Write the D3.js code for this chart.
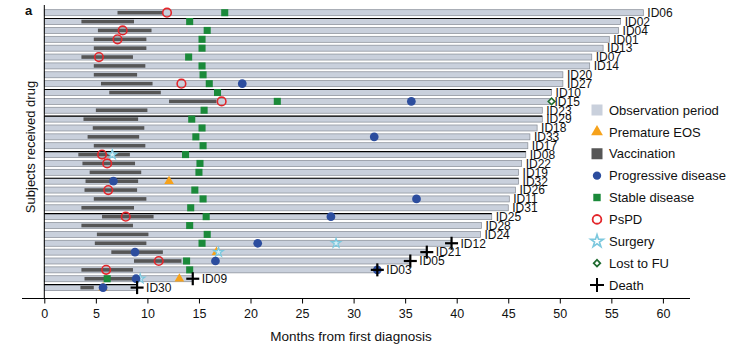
<!DOCTYPE html>
<html>
<head>
<meta charset="utf-8">
<script src="https://cdn.jsdelivr.net/npm/d3@7"></script>
<style>
  body { margin: 0; background: #fff; }
  svg text { font-family: "Liberation Sans Narrow", "Liberation Sans", Arial, sans-serif; fill: #111; }
</style>
</head>
<body>
<div id="chart"></div>
<script>
// Subjects, top to bottom
const ids = ["ID06","ID02","ID04","ID01","ID13","ID07","ID14","ID20","ID27","ID10","ID15","ID23","ID29","ID18","ID33","ID17",
             "ID08","ID22","ID19","ID32","ID26","ID11","ID31","ID25","ID28","ID24","ID12","ID21","ID05","ID03","ID09","ID30"];

// end of observation period (months)
const obsEnd = [58.1,55.9,55.7,54.8,54.2,53.1,52.9,50.3,50.3,49.2,49.1,48.3,48.3,47.8,47.1,46.9,
                46.7,46.3,46.0,46.0,45.7,45.1,45.0,43.4,42.4,42.3,39.5,37.1,35.5,32.3,14.4,9.0];

// vaccination start / end (months)
const vacStart = [7.1,3.6,5.2,4.8,4.8,3.6,4.8,4.8,5.5,6.3,12.1,5.0,3.8,4.7,4.2,4.8,
                  3.3,3.7,4.4,4.0,3.9,4.8,3.6,5.6,3.6,5.1,4.9,6.5,8.7,3.6,3.9,3.5];
const vacEnd   = [11.5,8.7,10.4,9.9,9.9,8.6,9.8,9.0,10.5,11.3,16.7,10.0,9.1,9.7,9.2,9.8,
                  8.3,8.8,9.4,9.1,9.0,9.9,8.7,10.6,8.6,10.1,9.9,11.5,13.3,8.6,8.9,4.8];

// rows with a dark outline
const darkRows = ["ID02","ID10","ID29","ID08","ID32","ID25","ID30"];

// events: [subject, month]
const stable = [["ID06",17.5],["ID02",14.1],["ID04",15.8],["ID01",15.3],["ID13",15.3],["ID07",14.0],["ID14",15.3],
                ["ID20",15.4],["ID27",16.0],["ID10",16.8],["ID15",22.6],["ID23",15.5],["ID29",14.3],["ID18",15.3],
                ["ID33",14.7],["ID17",15.4],["ID08",13.7],["ID22",15.1],["ID19",15.0],["ID26",14.6],["ID11",15.4],
                ["ID31",14.2],["ID25",15.7],["ID28",14.1],["ID24",15.8],["ID12",15.3],["ID05",13.8],["ID03",14.1],
                ["ID09",6.1]];
const pspd = [["ID06",11.9],["ID04",7.6],["ID01",7.1],["ID07",5.3],["ID27",13.3],["ID15",17.2],["ID08",5.6],
              ["ID22",6.1],["ID26",6.2],["ID25",7.9],["ID05",11.1],["ID03",6.0]];
const progressive = [["ID27",19.2],["ID15",35.6],["ID33",32.0],["ID32",6.7],["ID11",36.1],["ID25",27.8],
                     ["ID12",20.7],["ID21",8.8],["ID05",16.6],["ID03",32.3],["ID09",8.9],["ID30",5.7]];
const prematureEOS = [["ID32",12.1],["ID21",16.7],["ID09",13.1],["ID30",5.7]];
const surgery = [["ID08",6.6],["ID12",28.3],["ID21",16.9],["ID09",9.3]];
const lostFU = [["ID15",49.2]];
const death = ["ID12","ID21","ID05","ID03","ID09","ID30"];

const xTicks = d3.range(0, 61, 5);
const legendItems = ["Observation period","Premature EOS","Vaccination","Progressive disease","Stable disease",
                     "PsPD","Surgery","Lost to FU","Death"];

const width = 733, height = 352;
const svg = d3.select("#chart").append("svg")
    .attr("width", width).attr("height", height);

const x = d3.scaleLinear().domain([0, 60]).range([44.3, 662.9]);
const y = d3.scalePoint().domain(ids).range([12.7, 287.6]);
const endOf = {};
ids.forEach((d, i) => endOf[d] = obsEnd[i]);

const C = {
  obs: "#c9d0dc", obsEdge: "#858b94", vac: "#565656", green: "#1b8a3a",
  blue: "#2c4d9e", red: "#e3262b", orange: "#f6a21b", star: "#7cc8de", starFill: "#d8eff6",
  diamond: "#1f6b30"
};

// observation bars
const rows = svg.append("g");
rows.selectAll("rect.obs")
  .data(ids)
  .enter().append("rect")
    .attr("class", "obs")
    .attr("x", x(0))
    .attr("y", d => y(d) - 3)
    .attr("width", d => x(endOf[d]) - x(0))
    .attr("height", 6)
    .attr("fill", C.obs)
    .attr("stroke", C.obsEdge)
    .attr("stroke-width", 0.7);

rows.selectAll("line.dark")
  .data(darkRows)
  .enter().append("line")
    .attr("x1", x(0)).attr("x2", d => x(endOf[d]))
    .attr("y1", d => y(d) - 3).attr("y2", d => y(d) - 3)
    .attr("stroke", "#000").attr("stroke-width", 1.1);

// vaccination
rows.selectAll("rect.vac")
  .data(ids)
  .enter().append("rect")
    .attr("x", (d, i) => x(vacStart[i]))
    .attr("y", d => y(d) - 1.8)
    .attr("width", (d, i) => x(vacEnd[i]) - x(vacStart[i]))
    .attr("height", 3.6)
    .attr("fill", C.vac);

// symbols
const sym = {
  tri: d3.symbol().type(d3.symbolTriangle).size(40),
  star: d3.symbol().type(d3.symbolStar).size(28),
  sq: d3.symbol().type(d3.symbolSquare).size(50),
  circ: d3.symbol().type(d3.symbolCircle).size(60),
  ring: d3.symbol().type(d3.symbolCircle).size(58),
  dia: d3.symbol().type(d3.symbolSquare).size(22)
};

function drawEvents(data, path, attrs, rot) {
  const sel = svg.append("g").selectAll("path")
    .data(data)
    .enter().append("path")
      .attr("d", path)
      .attr("transform", d => "translate(" + x(d[1]) + "," + y(d[0]) + ")" + (rot ? " rotate(" + rot + ")" : ""));
  Object.keys(attrs).forEach(k => sel.attr(k, attrs[k]));
}

drawEvents(prematureEOS, sym.tri(), {fill: C.orange});
drawEvents(surgery, sym.star(), {fill: C.starFill, stroke: C.star, "stroke-width": 1.2});
drawEvents(stable, sym.sq(), {fill: C.green});
drawEvents(progressive, sym.circ(), {fill: C.blue});
drawEvents(pspd, sym.ring(), {fill: "none", stroke: C.red, "stroke-width": 1.6});
drawEvents(lostFU, sym.dia(), {fill: "#fff", stroke: C.diamond, "stroke-width": 1.6}, 45);

// death crosses
const cross = svg.append("g").selectAll("g")
  .data(death)
  .enter().append("g")
    .attr("transform", d => "translate(" + x(endOf[d]) + "," + y(d) + ")");
cross.append("line").attr("x1", -6.5).attr("x2", 6.5).attr("y1", 0).attr("y2", 0);
cross.append("line").attr("x1", 0).attr("x2", 0).attr("y1", -6.5).attr("y2", 6.5);
cross.selectAll("line").attr("stroke", "#000").attr("stroke-width", 2.2);

// row labels
svg.append("g").selectAll("text")
  .data(ids)
  .enter().append("text")
    .attr("x", d => x(endOf[d]) + (death.includes(d) ? 9 : 4))
    .attr("y", d => y(d))
    .attr("dy", "0.36em")
    .style("font-size", "12px")
    .text(d => d);

// axes
svg.append("line")
  .attr("x1", x(0)).attr("x2", x(0)).attr("y1", 5).attr("y2", 298.5)
  .attr("stroke", "#000").attr("stroke-width", 1);
svg.append("line")
  .attr("x1", 22).attr("x2", 690).attr("y1", 298.5).attr("y2", 298.5)
  .attr("stroke", "#000").attr("stroke-width", 1);

const xAxis = svg.append("g")
  .attr("transform", "translate(0,298.5)")
  .call(d3.axisBottom(x).tickValues(xTicks).tickSize(5).tickPadding(6).tickSizeOuter(0));
xAxis.select(".domain").remove();
xAxis.selectAll("text").style("font-size", "12.5px").attr("fill", "#111")
  .style("font-family", "'Liberation Sans Narrow', 'Liberation Sans', Arial, sans-serif");

svg.append("text")
  .attr("x", 351).attr("y", 341)
  .attr("text-anchor", "middle")
  .style("font-size", "13.5px")
  .text("Months from first diagnosis");

svg.append("text")
  .attr("transform", "translate(35,147) rotate(-90)")
  .attr("text-anchor", "middle")
  .style("font-size", "13px")
  .text("Subjects received drug");

svg.append("text")
  .attr("x", 25).attr("y", 15)
  .style("font-size", "13px").style("font-weight", "bold")
  .style("font-family", "'Liberation Sans', Arial, sans-serif")
  .text("a");

// legend
const ly = d3.scalePoint().domain(legendItems).range([110, 285]);
const legend = svg.append("g");
legend.selectAll("text")
  .data(legendItems)
  .enter().append("text")
    .attr("x", 609)
    .attr("y", d => ly(d))
    .attr("dy", "0.36em")
    .style("font-size", "13px")
    .style("font-family", "'Liberation Sans', Arial, sans-serif")
    .text(d => d);

const lx = 597;
function lpos(name) { return "translate(" + lx + "," + ly(name) + ")"; }
legend.append("rect").attr("x", lx - 5.5).attr("y", ly("Observation period") - 5.5)
  .attr("width", 11).attr("height", 11).attr("fill", C.obs);
legend.append("path").attr("d", d3.symbol().type(d3.symbolTriangle).size(60)())
  .attr("transform", lpos("Premature EOS")).attr("fill", C.orange);
legend.append("rect").attr("x", lx - 5.5).attr("y", ly("Vaccination") - 5.5)
  .attr("width", 11).attr("height", 11).attr("fill", C.vac);
legend.append("path").attr("d", d3.symbol().type(d3.symbolCircle).size(55)())
  .attr("transform", lpos("Progressive disease")).attr("fill", C.blue);
legend.append("path").attr("d", d3.symbol().type(d3.symbolSquare).size(55)())
  .attr("transform", lpos("Stable disease")).attr("fill", C.green);
legend.append("path").attr("d", d3.symbol().type(d3.symbolCircle).size(60)())
  .attr("transform", lpos("PsPD")).attr("fill", "none").attr("stroke", C.red).attr("stroke-width", 1.8);
legend.append("path").attr("d", d3.symbol().type(d3.symbolStar).size(50)())
  .attr("transform", lpos("Surgery")).attr("fill", "#fff").attr("stroke", C.star).attr("stroke-width", 1.6);
legend.append("path").attr("d", d3.symbol().type(d3.symbolSquare).size(22)())
  .attr("transform", lpos("Lost to FU") + " rotate(45)").attr("fill", "#fff")
  .attr("stroke", C.diamond).attr("stroke-width", 1.7);
const lc = legend.append("g").attr("transform", lpos("Death"));
lc.append("line").attr("x1", -7).attr("x2", 7).attr("y1", 0).attr("y2", 0);
lc.append("line").attr("x1", 0).attr("x2", 0).attr("y1", -7).attr("y2", 7);
lc.selectAll("line").attr("stroke", "#000").attr("stroke-width", 2);
</script>
</body>
</html>
